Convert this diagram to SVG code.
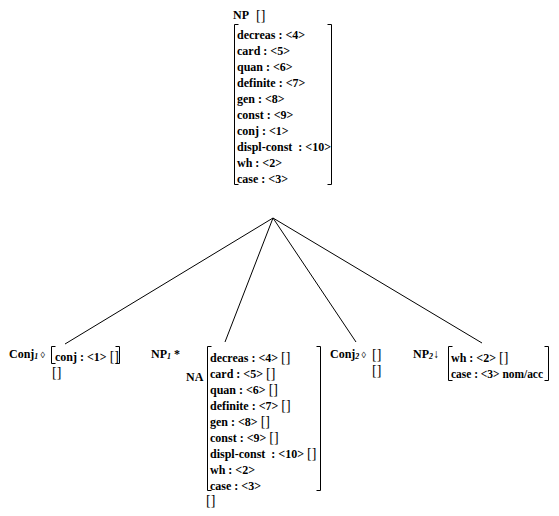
<svg xmlns="http://www.w3.org/2000/svg" width="559" height="516" viewBox="0 0 559 516">
<style>
text{font-family:"Liberation Serif","DejaVu Serif",serif;font-weight:bold;font-size:12px;fill:#000}
.sub{font-size:8px;font-style:italic}
.br{font-weight:normal;font-size:14px}
.bk{fill:none;stroke:#000;stroke-width:1}
.edge{fill:none;stroke:#000;stroke-width:1}
</style>
<rect width="559" height="516" fill="#fff"/>
<g id="connectors">
<line class="edge" x1="273" y1="218" x2="65" y2="344"/>
<line class="edge" x1="273" y1="218" x2="225" y2="342"/>
<line class="edge" x1="273" y1="218" x2="356" y2="342"/>
<line class="edge" x1="273" y1="218" x2="482" y2="343"/>
</g>
<g id="root">
<text x="233" y="19">NP</text>
<text class="br" x="256" y="20">[]</text>
<path class="bk" d="M238.5 24.5H234.5V184.5H238.5"/>
<path class="bk" d="M327.5 24.5H331.5V184.5H327.5"/>
<text x="237" y="39">decreas : &lt;4&gt;</text>
<text x="237" y="55">card : &lt;5&gt;</text>
<text x="237" y="71">quan : &lt;6&gt;</text>
<text x="237" y="87">definite : &lt;7&gt;</text>
<text x="237" y="103">gen : &lt;8&gt;</text>
<text x="237" y="119">const : &lt;9&gt;</text>
<text x="237" y="135">conj : &lt;1&gt;</text>
<text x="237" y="151" xml:space="preserve">displ-const  : &lt;10&gt;</text>
<text x="237" y="167">wh : &lt;2&gt;</text>
<text x="237" y="183">case : &lt;3&gt;</text>
</g>
<g id="conj1">
<text x="9" y="358">Conj<tspan class="sub" dy="1">1</tspan><tspan dy="-1" font-weight="normal" font-size="9"> ◊</tspan></text>
<path class="bk" d="M55.5 346.5H51.5V363.5H55.5"/>
<path class="bk" d="M115.5 346.5H119.5V363.5H115.5"/>
<text x="55" y="361">conj : &lt;1&gt; <tspan class="br">[]</tspan></text>
<text class="br" x="52" y="377">[]</text>
</g>
<g id="np1">
<text x="151" y="358">NP<tspan class="sub" dy="1">1</tspan><tspan dy="-1"> *</tspan></text>
<text x="186" y="381">NA</text>
<path class="bk" d="M211.5 346.5H207.5V490.5H211.5"/>
<path class="bk" d="M316.5 346.5H320.5V490.5H316.5"/>
<text x="210" y="362">decreas : &lt;4&gt; <tspan class="br">[]</tspan></text>
<text x="210" y="378">card : &lt;5&gt; <tspan class="br">[]</tspan></text>
<text x="210" y="394">quan : &lt;6&gt; <tspan class="br">[]</tspan></text>
<text x="210" y="410">definite : &lt;7&gt; <tspan class="br">[]</tspan></text>
<text x="210" y="426">gen : &lt;8&gt; <tspan class="br">[]</tspan></text>
<text x="210" y="442">const : &lt;9&gt; <tspan class="br">[]</tspan></text>
<text x="210" y="458" xml:space="preserve">displ-const  : &lt;10&gt; <tspan class="br">[]</tspan></text>
<text x="210" y="474">wh : &lt;2&gt;</text>
<text x="210" y="490">case : &lt;3&gt;</text>
<text class="br" x="206" y="505">[]</text>
</g>
<g id="conj2">
<text x="330" y="358">Conj<tspan class="sub" dy="1">2</tspan><tspan dy="-1" font-weight="normal" font-size="9"> ◊</tspan></text>
<text class="br" x="372" y="359">[]</text>
<text class="br" x="372" y="375">[]</text>
</g>
<g id="np2">
<text x="413" y="358">NP<tspan class="sub" dy="1">2</tspan><tspan dy="-1" font-weight="normal">↓</tspan></text>
<path class="bk" d="M452.5 346.5H448.5V380.5H452.5"/>
<path class="bk" d="M544.5 346.5H548.5V380.5H544.5"/>
<text x="451" y="362">wh : &lt;2&gt; <tspan class="br">[]</tspan></text>
<text x="451" y="378" textLength="92" lengthAdjust="spacingAndGlyphs">case : &lt;3&gt; nom/acc</text>
</g>
</svg>
